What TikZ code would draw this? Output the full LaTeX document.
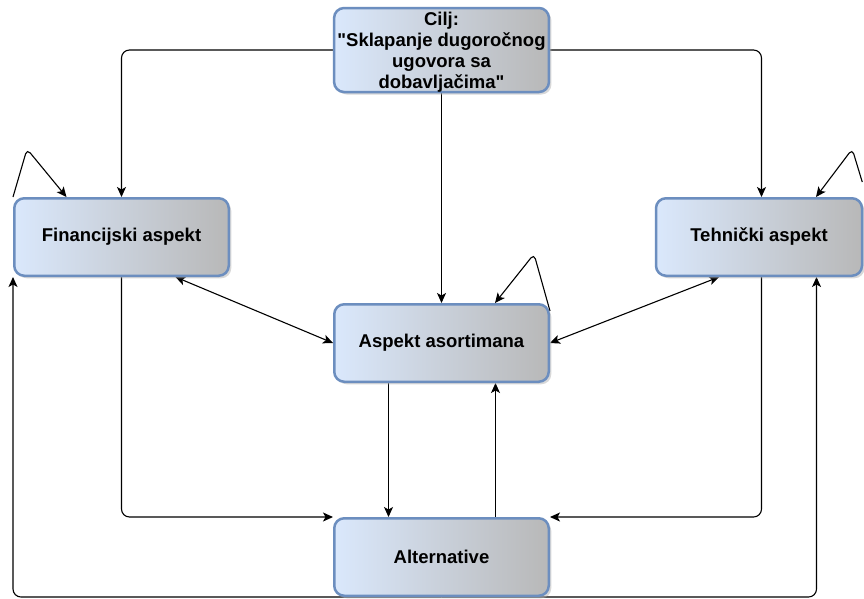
\documentclass[tikz,border=0pt]{standalone}
\usepackage{fontspec}
\setmainfont{Liberation Sans}[Ligatures=TeXOff]
\usetikzlibrary{arrows.meta,shadows,backgrounds}
\definecolor{boxline}{RGB}{108,142,191}
\definecolor{boxleft}{RGB}{218,232,252}
\definecolor{boxright}{RGB}{184,184,184}

\begin{document}
\begin{tikzpicture}[
    x=1pt, y=-1pt,
    aspect/.style={rectangle, draw=boxline, line width=2.5pt, rounded corners=10pt, left color=boxleft, right color=boxright, minimum width=214.5pt, minimum height=77.5pt, align=center, font=\fontsize{18.5}{21}\selectfont\bfseries, drop shadow={shadow xshift=2.5pt, shadow yshift=-2.5pt, fill=black!30}},
    link/.style={-{Stealth[length=10pt,width=9pt,inset=2.5pt]}, line width=1.1pt, draw=black, rounded corners=8pt},
    both/.style={link, {Stealth[length=10pt,width=9pt,inset=2.5pt]}-{Stealth[length=10pt,width=9pt,inset=2.5pt]}}
]
    \useasboundingbox (0,0) rectangle (864,598);

    \node[aspect, inner ysep=0pt] (cilj) at (441.5,50) {\raisebox{-3pt}[\height][\depth]{\begin{tabular}{@{}c@{}}Cilj:\\"Sklapanje dugoročnog\\ugovora sa\\dobavljačima"\end{tabular}}};
    \node[aspect] (fin) at (121.5,237) {Financijski aspekt};
    \node[aspect, minimum width=206pt] (teh) at (759,237) {Tehnički aspekt};
    \node[aspect] (asp) at (441.5,343) {Aspekt asortimana};
    \node[aspect] (alt) at (441.5,557) {Alternative};

    \begin{scope}[on background layer]
    \fill[white] (0,0) rectangle (864,598);
    \draw[link] (cilj.west) -| (fin.north);
    \draw[link] (cilj.east) -| ([xshift=2.5pt]teh.north);
    \draw[link] (cilj.south) -- (asp.north);
    \draw[both] ([xshift=54pt]fin.south) -- (asp.west);
    \draw[both] ([xshift=-40pt]teh.south) -- (asp.east);
    \draw[link] (fin.south) |- (alt.north west);
    \draw[link] ([xshift=2.5pt]teh.south) |- (alt.north east);
    \draw[link] ([xshift=-53pt]asp.south) -- ([xshift=-53pt]alt.north);
    \draw[link] ([xshift=54pt]alt.north) -- ([xshift=54pt]asp.south);
    \draw[link] (alt.south) -| (fin.south west);
    \draw[link] (alt.south) -| ([xshift=57.5pt]teh.south);
    % loops
    \draw[link, rounded corners=5pt] (fin.north west) -- ++(14,-48) -- ([xshift=-55pt]fin.north);
    \draw[link, rounded corners=5pt] ([yshift=-8pt]asp.north east) -- ++(-16,-57) -- ([xshift=53.5pt]asp.north);
    \draw[link, rounded corners=5pt] ([xshift=-1pt,yshift=15pt]teh.north east) -- ++(-10,-33) -- ([xshift=57pt]teh.north);
    \end{scope}
\end{tikzpicture}
\end{document}
